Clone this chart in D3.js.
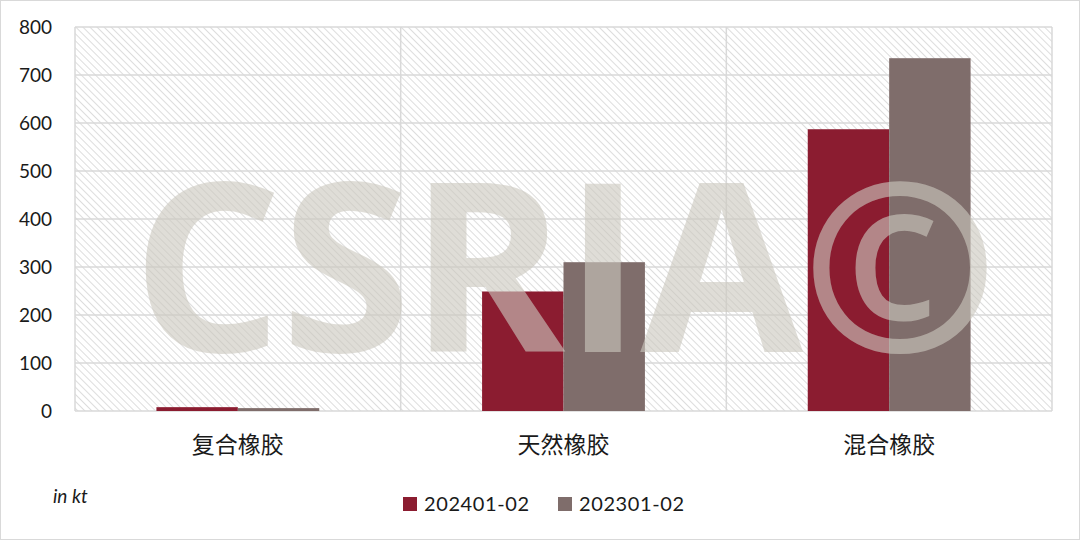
<!DOCTYPE html>
<html>
<head>
<meta charset="utf-8">
<script src="https://cdn.jsdelivr.net/npm/d3@7"></script>
<style>
  body { margin: 0; background: #fff; }
  svg { display: block; }
  .tick-label { font-family: Lato, "Noto Sans", sans-serif; font-size: 19px; fill: #1a1a1a; }
  .cat-label { font-family: "Noto Sans CJK SC", sans-serif; font-size: 23px; fill: #1a1a1a; }
  .legend-label { font-family: Lato, "Noto Sans", sans-serif; font-size: 20px; fill: #1a1a1a; letter-spacing: 0.6px; }
  .unit-label { font-family: Lato, "Noto Sans", sans-serif; font-size: 19px; font-style: italic; fill: #1a1a1a; }
</style>
</head>
<body>
<div id="chart"></div>
<script>

// ---- data ----
var categories = ["复合橡胶", "天然橡胶", "混合橡胶"];
var seriesNames = ["202401-02", "202301-02"];
var values2024 = [8, 249, 587];
var values2023 = [6, 310, 735];
var yTicks = [0, 100, 200, 300, 400, 500, 600, 700, 800];
var seriesColors = ["#8b1c30", "#7f6d6b"];

var width = 1080,
    height = 541;
var margin = {top: 27, right: 28, bottom: 130, left: 75};
var plotW = width - margin.left - margin.right,
    plotH = height - margin.top - margin.bottom;

var svg = d3.select("#chart").append("svg")
    .attr("width", width)
    .attr("height", height);

// outer frame
svg.append("rect")
    .attr("x", 0.5).attr("y", 0.5)
    .attr("width", width - 1).attr("height", height - 2)
    .attr("fill", "#fff")
    .attr("stroke", "#d9d9d9");

// diagonal hatch for plot background
var defs = svg.append("defs");
defs.append("pattern")
    .attr("id", "hatch")
    .attr("patternUnits", "userSpaceOnUse")
    .attr("width", 5).attr("height", 5)
    .attr("patternTransform", "rotate(-45)")
  .append("line")
    .attr("x1", 0).attr("y1", 0)
    .attr("x2", 0).attr("y2", 5)
    .attr("stroke", "#cfcfcf")
    .attr("stroke-width", 1.4);

var g = svg.append("g")
    .attr("transform", "translate(" + margin.left + "," + margin.top + ")");

var x0 = d3.scaleBand()
    .domain(categories)
    .range([0, plotW])
    .paddingInner(0)
    .paddingOuter(0);

var x1 = d3.scaleBand()
    .domain(seriesNames)
    .range([0, x0.bandwidth()])
    .paddingInner(0)
    .paddingOuter(1);

var y = d3.scaleLinear()
    .domain([0, 800])
    .range([plotH, 0]);

g.append("rect")
    .attr("width", plotW)
    .attr("height", plotH)
    .attr("fill", "url(#hatch)");

// horizontal gridlines
g.append("g")
    .selectAll("line")
    .data(yTicks)
    .join("line")
    .attr("x1", 0).attr("x2", plotW)
    .attr("y1", function(d){ return y(d); })
    .attr("y2", function(d){ return y(d); })
    .attr("stroke", "#d9d9d9")
    .attr("stroke-width", 1.5);

// vertical gridlines at category boundaries
var bounds = categories.map(function(c){ return x0(c); }).concat([plotW]);
g.append("g")
    .selectAll("line")
    .data(bounds)
    .join("line")
    .attr("x1", function(d){ return d; })
    .attr("x2", function(d){ return d; })
    .attr("y1", 0).attr("y2", plotH)
    .attr("stroke", "#d9d9d9")
    .attr("stroke-width", 1.5);

// bars
var rows = categories.map(function(c, i){
    return {cat: c, vals: [values2024[i], values2023[i]]};
});

var groups = g.append("g")
    .selectAll("g")
    .data(rows)
    .join("g")
    .attr("transform", function(d){ return "translate(" + x0(d.cat) + ",0)"; });

groups.selectAll("rect")
    .data(function(d){
        return d.vals.map(function(v, j){ return {name: seriesNames[j], value: v, idx: j}; });
    })
    .join("rect")
    .attr("x", function(d){ return x1(d.name); })
    .attr("width", x1.bandwidth())
    .attr("y", function(d){ return y(d.value); })
    .attr("height", function(d){ return plotH - y(d.value); })
    .attr("fill", function(d){ return seriesColors[d.idx]; });

// y axis labels
var yAxis = d3.axisLeft(y)
    .tickValues(yTicks)
    .tickSize(0)
    .tickPadding(23);

var yAxisG = g.append("g").call(yAxis);
yAxisG.select(".domain").remove();
yAxisG.selectAll("text")
    .attr("class", "tick-label")
    .attr("font-family", null)
    .attr("font-size", null)
    .attr("dy", "0.35em");

// category labels
var xAxis = d3.axisBottom(x0).tickSize(0).tickPadding(26);
var xAxisG = g.append("g")
    .attr("transform", "translate(0," + plotH + ")")
    .call(xAxis);
xAxisG.select(".domain").remove();
xAxisG.selectAll("text")
    .attr("class", "cat-label")
    .attr("font-family", null)
    .attr("font-size", null);

// watermark
svg.append("text")
    .attr("x", 132)
    .attr("y", 352)
    .attr("textLength", 866)
    .attr("lengthAdjust", "spacing")
    .attr("font-family", "'Open Sans', sans-serif")
    .attr("font-weight", 700)
    .attr("font-size", 236)
    .attr("fill", "#cbc8bf")
    .attr("fill-opacity", 0.62)
    .text("CSRIA©");

// unit
svg.append("text")
    .attr("class", "unit-label")
    .attr("x", 53)
    .attr("y", 503)
    .text("in kt");

// legend
var legendX = [403, 558];
var legend = svg.append("g")
    .selectAll("g")
    .data(seriesNames)
    .join("g")
    .attr("transform", function(d, i){ return "translate(" + legendX[i] + ",497)"; });

legend.append("rect")
    .attr("width", 14).attr("height", 14)
    .attr("fill", function(d, i){ return seriesColors[i]; });

legend.append("text")
    .attr("class", "legend-label")
    .attr("x", 21)
    .attr("y", 14)
    .text(function(d){ return d; });

</script>
</body>
</html>
